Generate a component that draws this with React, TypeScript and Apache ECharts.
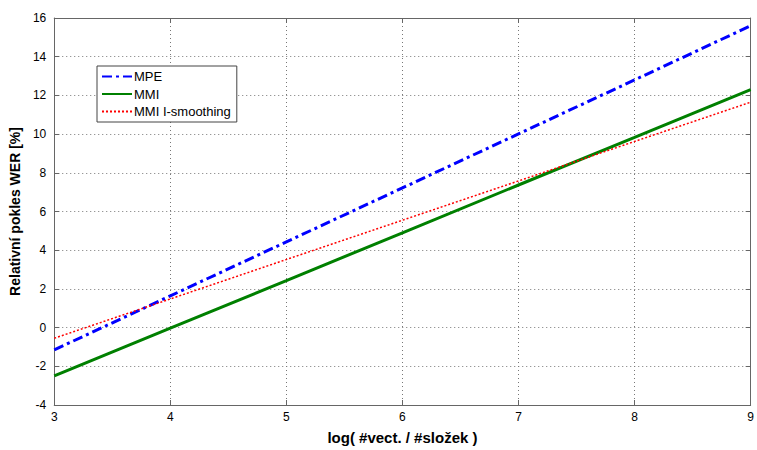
import React, { useEffect, useRef } from "react";
import * as echarts from "echarts";

const xValues = [3, 4, 5, 6, 7, 8, 9];
const mpe = [-1.15, 1.64, 4.43, 7.22, 10.01, 12.8, 15.6];
const mmi = [-2.5, -0.03, 2.43, 4.9, 7.37, 9.83, 12.3];
const mmiIs = [-0.55, 1.48, 3.52, 5.55, 7.58, 9.62, 11.65];
const seriesNames = ["MPE", "MMI", "MMI I-smoothing"];

const font = "Liberation Sans, Arial, sans-serif";

export default function App() {
  const ref = useRef<HTMLDivElement>(null);
  useEffect(() => {
    if (!ref.current) return;
    const chart = echarts.init(ref.current, undefined, { renderer: "svg" });
    const pair = (ys: number[]) => xValues.map((x, i) => [x, ys[i]]);
    const gridLine = { show: true, lineStyle: { color: "#777", type: [1, 3] as any, width: 1 } };
    const axisLine = { show: true, onZero: false, lineStyle: { color: "#666", width: 1 } };
    const tick = { show: true, inside: true, length: 5, lineStyle: { color: "#666" } };
    chart.setOption({
      animation: false,
      backgroundColor: "#fff",
      textStyle: { fontFamily: font },
      grid: { left: 50, right: 4, top: 18, bottom: 38, containLabel: false },
      legend: {
        orient: "vertical",
        left: 97,
        top: 66,
        data: seriesNames,
        backgroundColor: "#fff",
        borderColor: "#444",
        borderWidth: 1,
        borderRadius: 0,
        padding: [4, 6, 4, 4],
        itemWidth: 30,
        itemHeight: 14,
        itemGap: 4.5,
        itemStyle: { opacity: 0 },
        textStyle: { fontFamily: font, fontSize: 13, color: "#000", padding: [0, 0, 0, -3] },
      },
      xAxis: [
        {
          type: "value",
          min: 3,
          max: 9,
          interval: 1,
          name: "log( #vect. / #složek )",
          nameLocation: "middle",
          nameGap: 25,
          nameTextStyle: { fontFamily: font, fontSize: 15, fontWeight: "bold", color: "#000" },
          axisLine,
          axisTick: tick,
          axisLabel: { color: "#000", fontSize: 12, fontFamily: font, margin: 6 },
          splitLine: gridLine,
        },
        {
          type: "value",
          position: "top",
          min: 3,
          max: 9,
          interval: 1,
          axisLine,
          axisTick: tick,
          axisLabel: { show: false },
          splitLine: { show: false },
        },
      ],
      yAxis: [
        {
          type: "value",
          min: -4,
          max: 16,
          interval: 2,
          name: "Relativní pokles WER [%]",
          nameLocation: "middle",
          nameGap: 27,
          nameTextStyle: { fontFamily: font, fontSize: 14, fontWeight: "bold", color: "#000" },
          axisLine,
          axisTick: tick,
          axisLabel: { color: "#000", fontSize: 12, fontFamily: font, margin: 8 },
          splitLine: gridLine,
        },
        {
          type: "value",
          position: "right",
          min: -4,
          max: 16,
          interval: 2,
          axisLine,
          axisTick: tick,
          axisLabel: { show: false },
          splitLine: { show: false },
        },
      ],
      series: [
        {
          name: seriesNames[0],
          type: "line",
          data: pair(mpe),
          symbol: "none",
          lineStyle: { color: "#0000ff", width: 3, type: [10, 4, 3, 4] },
          itemStyle: { color: "#0000ff" },
        },
        {
          name: seriesNames[1],
          type: "line",
          data: pair(mmi),
          symbol: "none",
          lineStyle: { color: "#008000", width: 3, type: "solid" },
          itemStyle: { color: "#008000" },
        },
        {
          name: seriesNames[2],
          type: "line",
          data: pair(mmiIs),
          symbol: "none",
          lineStyle: { color: "#ff0000", width: 1.5, type: [2, 2] },
          itemStyle: { color: "#ff0000" },
        },
      ],
    });
    return () => chart.dispose();
  }, []);
  return <div ref={ref} style={{ width: 757, height: 450, position: "absolute", left: 0, top: 0 }} />;
}
